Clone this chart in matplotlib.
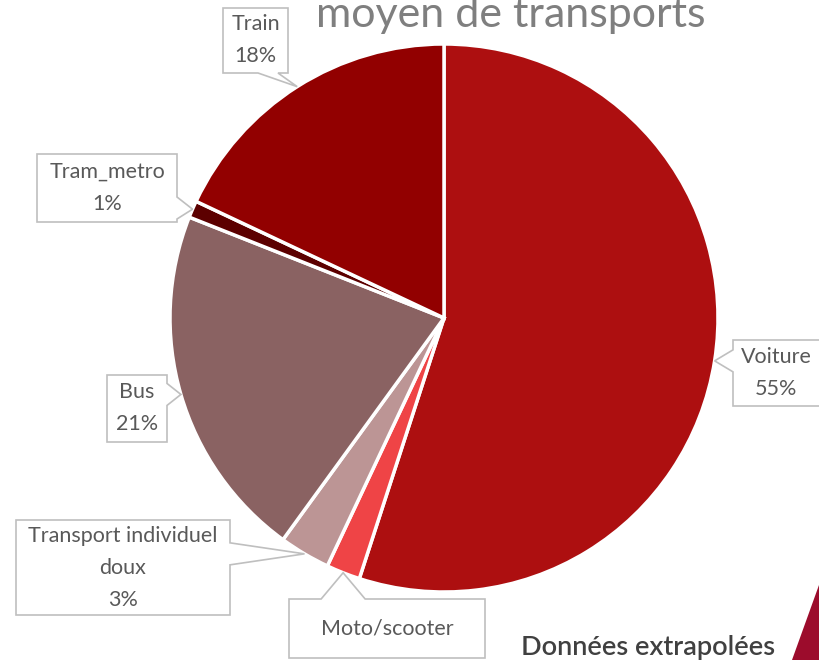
import numpy as np
import matplotlib
matplotlib.use("Agg")
import matplotlib.pyplot as plt
from matplotlib.patches import Polygon

plt.rcParams["font.family"] = ["Lato", "DejaVu Sans"]

# ── Data ─────────────────────────────────────────────────────────────────────
categories = ["Voiture", "Moto/scooter", "Transport individuel\ndoux", "Bus", "Tram_metro", "Train"]
shares = [55, 2, 3, 21, 1, 18]
show_pct = [True, False, True, True, True, True]
colors = ["#AD0F10", "#EF4446", "#BC9595", "#8A6262", "#5C0000", "#920000"]

# callout boxes in image pixels: (left, top, right, bottom), side of the pointer
boxes = [
    ((733, 340, 830, 406), "left"),
    ((289, 599, 485, 658), "top"),
    ((16, 520, 230, 615), "right"),
    ((107, 375, 167, 442), "right"),
    ((37, 154, 177, 222), "right"),
    ((223, 8, 288, 73), "bottom"),
]

W, H = 819, 660
CX, CY, R = 444, 318, 274

fig = plt.figure(figsize=(W / 100, H / 100), dpi=100)
ax = fig.add_axes([0, 0, 1, 1])

wedges, _ = ax.pie(shares, colors=colors, startangle=90, counterclock=False,
                   center=(CX, H - CY), radius=R, frame=True,
                   wedgeprops=dict(edgecolor="white", linewidth=2.5))
ax.set_xlim(0, W)
ax.set_ylim(0, H)
ax.set_aspect("equal")
ax.axis("off")


def callout(box, side, tip, text):
    l, t, r, b = box
    t, b = H - t, H - b  # to data coords (y up)
    tx, ty = tip
    if side == "left":
        ym = min(max(ty, b + 14), t - 14)
        pts = [(l, t), (r, t), (r, b), (l, b), (l, ym - 11), (tx, ty), (l, ym + 11)]
    elif side == "right":
        ym = min(max(ty, b + 14), t - 14)
        pts = [(l, t), (r, t), (r, ym + 11), (tx, ty), (r, ym - 11), (r, b), (l, b)]
    elif side == "top":
        xm = min(max(tx, l + 30), r - 30)
        pts = [(l, t), (xm - 22, t), (tx, ty), (xm + 22, t), (r, t), (r, b), (l, b)]
    else:
        xm = min(max(tx, l + 20), r - 20)
        pts = [(l, t), (r, t), (r, b), (xm + 10, b), (tx, ty), (xm - 10, b), (l, b)]
    ax.add_patch(Polygon(pts, closed=True, facecolor="white", edgecolor="#BFBFBF",
                         linewidth=1.2, zorder=5))
    ax.text((l + min(r, W)) / 2, (t + b) / 2, text, ha="center", va="center",
            fontsize=15.5, color="#595959", linespacing=1.75, zorder=6)


# pointer tips sit on the rim at each wedge's mid angle
start = 90.0
for cat, val, pct, (box, side) in zip(categories, shares, show_pct, boxes):
    mid = np.deg2rad(start - val / sum(shares) * 360 / 2)
    start -= val / sum(shares) * 360
    tip = (CX + R * np.cos(mid), H - CY + R * np.sin(mid))
    label = f"{cat}\n{val}%" if pct else cat
    callout(box, side, tip, label)

# cut-off title and footer
ax.text(511, H - 27, "moyen de transports", ha="center", va="baseline",
        fontsize=31, color="#7F7F7F")
ax.text(775, H - 655, "Données extrapolées", ha="right", va="baseline",
        fontsize=19.5, color="#404040", fontweight="semibold")
ax.add_patch(Polygon([(792, 0), (W, H - 585), (W, 0)], closed=True,
                     facecolor="#9C0C2C", edgecolor="none"))

fig.savefig("out.png", dpi=100)
